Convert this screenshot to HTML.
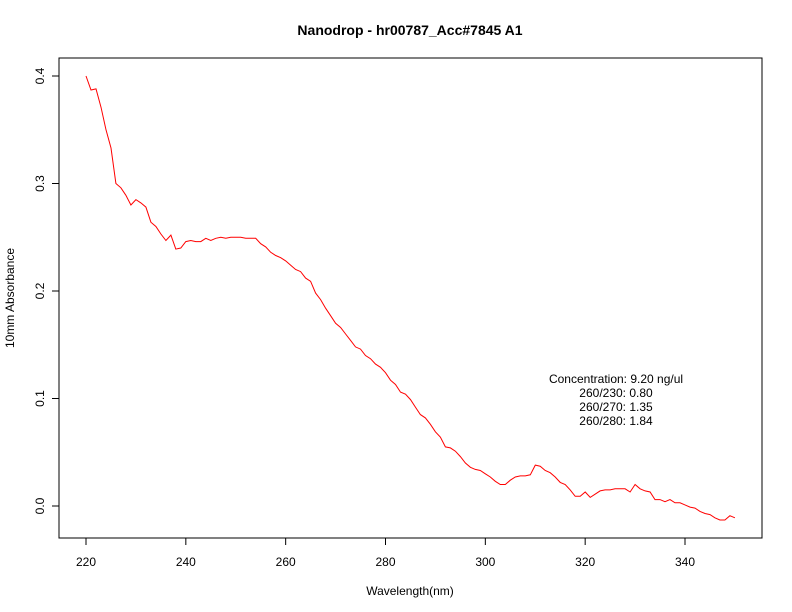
<!DOCTYPE html>
<html><head><meta charset="utf-8"><style>
body{margin:0;background:#fff}
svg{display:block;font-family:"Liberation Sans",sans-serif}
</style></head><body>
<svg id="c" width="792" height="612" viewBox="0 0 792 612">
<rect width="792" height="612" fill="#fff"/>
<text x="410" y="35" text-anchor="middle" font-size="14" font-weight="bold">Nanodrop - hr00787_Acc#7845 A1</text>
<rect x="59" y="58" width="703" height="480" fill="none" stroke="#000"/>
<g id="xaxis"></g>
<g id="yaxis"></g>
<text x="410" y="595" text-anchor="middle" font-size="12">Wavelength(nm)</text>
<text transform="translate(14,298) rotate(-90)" text-anchor="middle" font-size="12">10mm Absorbance</text>
<path id="line" fill="none" stroke="#ff0000" stroke-width="1"/>
<g font-size="12" text-anchor="middle">
<text x="616" y="383">Concentration: 9.20 ng/ul</text>
<text x="616" y="397">260/230: 0.80</text>
<text x="616" y="411">260/270: 1.35</text>
<text x="616" y="425">260/280: 1.84</text>
</g>
</svg>
<script>
const wlStart = 220;
const absorbance = [0.400,0.387,0.388,0.371,0.350,0.333,0.300,0.296,0.289,0.280,0.285,0.282,0.278,0.264,0.260,0.253,0.247,0.252,0.239,0.240,
0.246,0.247,0.246,0.246,0.249,0.247,0.249,0.250,0.249,0.250,0.250,0.250,0.249,0.249,0.249,0.244,0.241,0.236,0.233,0.231,
0.228,0.224,0.220,0.218,0.212,0.209,0.198,0.192,0.184,0.177,0.170,0.166,0.160,0.154,0.148,0.146,0.140,0.137,0.132,0.129,
0.124,0.117,0.113,0.106,0.104,0.099,0.092,0.085,0.082,0.076,0.069,0.064,0.055,0.054,0.051,0.046,0.040,0.036,0.034,0.033,
0.030,0.027,0.023,0.020,0.020,0.024,0.027,0.028,0.028,0.029,0.038,0.037,0.033,0.031,0.027,0.022,0.020,0.015,0.009,0.009,
0.013,0.008,0.011,0.014,0.015,0.015,0.016,0.016,0.016,0.013,0.020,0.016,0.014,0.013,0.006,0.006,0.004,0.006,0.003,0.003,
0.001,-0.001,-0.002,-0.005,-0.007,-0.008,-0.011,-0.013,-0.013,-0.009,-0.011];
const xTicks = [220,240,260,280,300,320,340];
const yTicks = [0.0,0.1,0.2,0.3,0.4];
const yTickLabels = ["0.0","0.1","0.2","0.3","0.4"];

const NS="http://www.w3.org/2000/svg";
const xs = v => 86 + (v-220)*(599/120);
const ys = v => 506 - v*1075;

const xg=document.getElementById('xaxis');
let p=`M${xs(xTicks[0])},538H${xs(xTicks[xTicks.length-1])}`;
xTicks.forEach(t=>{p+=`M${xs(t)},538v7`;
 const tx=document.createElementNS(NS,'text');
 
 
 tx.setAttribute('x',xs(t));tx.setAttribute('y',566);tx.setAttribute('text-anchor','middle');tx.setAttribute('font-size','12');
 tx.textContent=t;xg.appendChild(tx);});
const xp=document.createElementNS(NS,'path');


xp.setAttribute('d',p);xp.setAttribute('stroke','#000');xp.setAttribute('fill','none');xg.appendChild(xp);

const yg=document.getElementById('yaxis');
p=`M59,${ys(yTicks[0])}V${ys(yTicks[yTicks.length-1])}`;
yTicks.forEach((t,i)=>{p+=`M59,${ys(t)}h-7`;
 const tx=document.createElementNS(NS,'text');
 
 
 tx.setAttribute('transform',`translate(44,${ys(t)}) rotate(-90)`);tx.setAttribute('text-anchor','middle');tx.setAttribute('font-size','12');
 tx.textContent=yTickLabels[i];yg.appendChild(tx);});
const yp=document.createElementNS(NS,'path');


yp.setAttribute('d',p);yp.setAttribute('stroke','#000');yp.setAttribute('fill','none');yg.appendChild(yp);

document.getElementById('line').setAttribute('d',absorbance.map((v,i)=>(i?'L':'M')+xs(wlStart+i).toFixed(1)+','+ys(v).toFixed(1)).join(''));
</script>
</body></html>
